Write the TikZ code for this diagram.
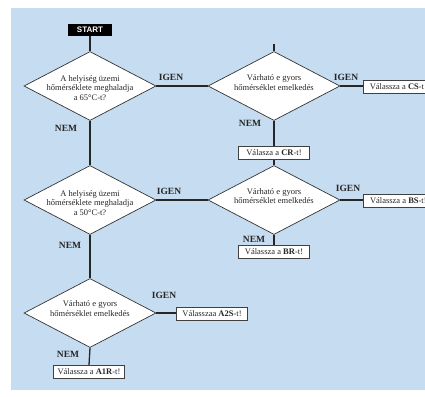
\documentclass[tikz,border=0pt]{standalone}
\usepackage{fontspec}
\setmainfont{Liberation Serif}
\newfontfamily\startfont{Liberation Sans}
\usetikzlibrary{shapes.geometric}
\definecolor{bgblue}{RGB}{198,220,240}
\begin{document}
\begin{tikzpicture}[x=1pt,y=-1pt,
 dia/.style={diamond, draw=black!80, fill=white, line width=0.7pt, minimum width=132pt, minimum height=69pt, inner sep=0pt},
 dtext/.style={align=center, font=\fontsize{8.5}{9.8}\selectfont, inner sep=0pt, text=black!85},
 box/.style={draw=black!75, fill=white, line width=0.7pt, minimum width=71pt, minimum height=13pt, inner sep=1.5pt, font=\fontsize{8.5}{10}\selectfont, text=black!85},
 lab/.style={font=\bfseries\fontsize{9.5}{11}\selectfont, inner sep=0pt, text=black!85},
 conn/.style={line width=1.3pt, draw=black!85},
 startbox/.style={fill=black, text=white, font=\startfont\bfseries\fontsize{8}{9}\selectfont, minimum width=44pt, minimum height=12pt, inner sep=0pt},
 ]
\clip (0,0) rectangle (425,396);
\fill[bgblue] (11,8) rectangle (425,390);

% nodes
\node[startbox] (start) at (90,30) {START};
\node[dia] (d1) at (90,86) {};
\node[dtext] (d1t) at (90,88) {A helyiség üzemi\\hőmérséklete meghaladja\\a 65°C-t?};
\node[dia] (d2) at (274,86) {};
\node[dtext] (d2t) at (274,82.5) {Várható e gyors\\hőmérséklet emelkedés};
\node[dia] (d4) at (90,200) {};
\node[dtext] (d4t) at (90,203) {A helyiség üzemi\\hőmérséklete meghaladja\\a 50°C-t?};
\node[dia] (d3) at (274,200) {};
\node[dtext] (d3t) at (274,196) {Várható e gyors\\hőmérséklet emelkedés};
\node[dia] (d5) at (90,313) {};
\node[dtext] (d5t) at (90,308.5) {Várható e gyors\\hőmérséklet emelkedés};

\node[box, anchor=west, minimum width=70pt] (cs) at (363,87) {Válassza a \textbf{CS}-t!};
\node[box, anchor=west, minimum width=70pt] (bs) at (363,200.5) {Válassza a \textbf{BS}-t!};
\node[box] (cr) at (274,153) {Válasza a \textbf{CR}-t!};
\node[box] (br) at (274,251.5) {Válassza a \textbf{BR}-t!};
\node[box] (a2s) at (212,313.5) {Válasszaa \textbf{A2S}-t!};
\node[box] (a1r) at (89,372) {Válassza a \textbf{A1R}-t!};

\coordinate (top2) at (274,44);

% connectors
\draw[conn] (start.south) -- (d1.north);
\draw[conn] (d1.south) -- (d4.north);
\draw[conn] (d4.south) -- (d5.north);
\draw[conn] (d5.south) -- (a1r.north);
\draw[conn] (top2) -- (d2.north);
\draw[conn] (d2.south) -- (cr.north);
\draw[conn] (cr.south) -- (d3.north);
\draw[conn] (d3.south) -- (br.north);
\draw[conn] (d1.east) -- (d2.west);
\draw[conn] (d4.east) -- (d3.west);
\draw[conn] (d2.east) -- (cs.west |- d2.east);
\draw[conn] (d3.east) -- (bs.west |- d3.east);
\draw[conn] (d5.east) -- (a2s.west |- d5.east);

% labels
\node[lab] (i1) at (171,77) {IGEN};
\node[lab] (i2) at (346,77) {IGEN};
\node[lab] (i4) at (169,191) {IGEN};
\node[lab] (i3) at (348,188) {IGEN};
\node[lab] (i5) at (164,295) {IGEN};
\node[lab] (n1) at (66,128) {NEM};
\node[lab] (n2) at (250,123) {NEM};
\node[lab] (n4) at (70,245) {NEM};
\node[lab] (n3) at (254,239) {NEM};
\node[lab] (n5) at (68,354) {NEM};
\end{tikzpicture}
\end{document}
